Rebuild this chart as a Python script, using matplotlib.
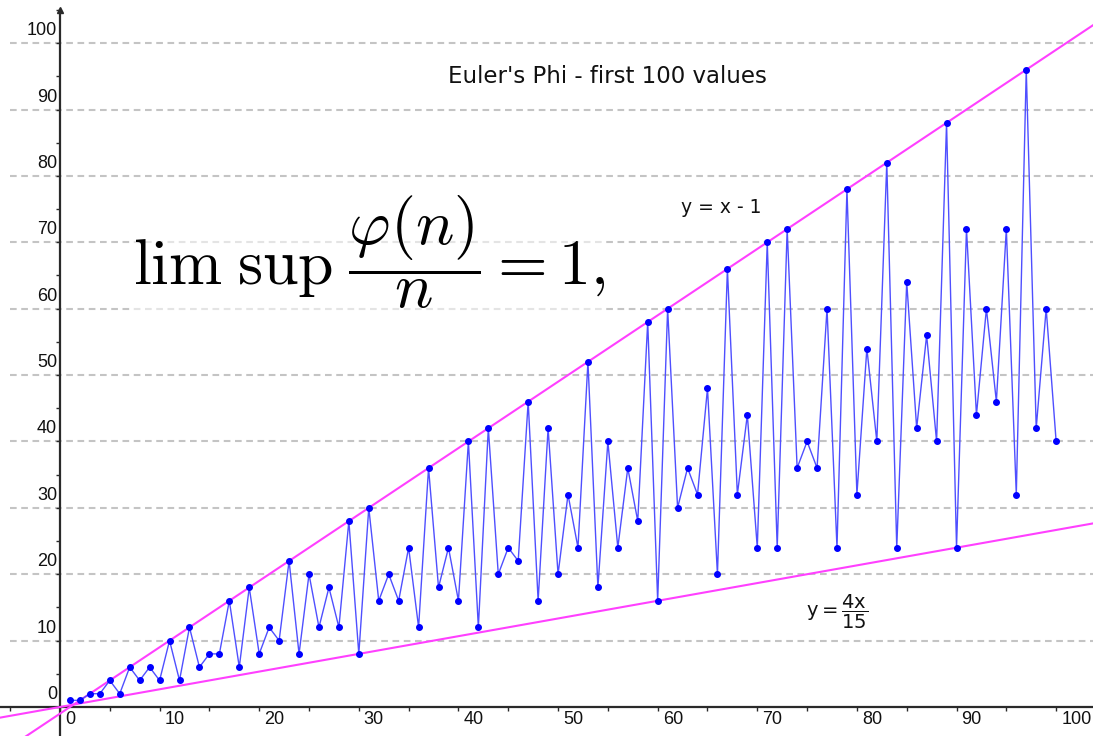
import matplotlib
matplotlib.use("Agg")
import matplotlib.pyplot as plt
import numpy as np
from matplotlib.ticker import MultipleLocator
import matplotlib.transforms as mtransforms

# ---- data ----
n_values = list(range(1, 101))
phi_values = [1, 1, 2, 2, 4, 2, 6, 4, 6, 4,
              10, 4, 12, 6, 8, 8, 16, 6, 18, 8,
              12, 10, 22, 8, 20, 12, 18, 12, 28, 8,
              30, 16, 20, 16, 24, 12, 36, 18, 24, 16,
              40, 12, 42, 20, 24, 22, 46, 16, 42, 20,
              32, 24, 52, 18, 40, 24, 36, 28, 58, 16,
              60, 30, 36, 32, 48, 20, 66, 32, 44, 24,
              70, 24, 72, 36, 40, 36, 60, 24, 78, 32,
              54, 40, 82, 24, 64, 42, 56, 40, 88, 24,
              72, 44, 60, 46, 72, 32, 96, 42, 60, 40]
x_tick_values = [0, 10, 20, 30, 40, 50, 60, 70, 80, 90, 100]
x_tick_labels = ["0", "10", "20", "30", "40", "50", "60", "70", "80", "90", "100"]
y_tick_values = [0, 10, 20, 30, 40, 50, 60, 70, 80, 90, 100]
y_tick_labels = ["0", "10", "20", "30", "40", "50", "60", "70", "80", "90", "100"]
grid_values = [10, 20, 30, 40, 50, 60, 70, 80, 90, 100]
upper_slope, upper_icpt = 1.0, -1.0       # y = x - 1
lower_slope, lower_icpt = 4.0 / 15.0, 0.0  # y = 4x/15

title_text = "Euler's Phi - first 100 values"
upper_label = "y = x - 1"
lower_label = r"$\mathrm{y{=}\dfrac{4x}{15}}$"
formula = r"$\lim\;\sup\;\dfrac{\varphi(n)}{n} = 1,$"

XMIN, XMAX = -6.02, 103.7
YMIN, YMAX = -4.37, 106.5

fig = plt.figure(figsize=(10.93, 7.36), dpi=100)
ax = fig.add_axes([0, 0, 1, 1])
ax.set_xlim(XMIN, XMAX)
ax.set_ylim(YMIN, YMAX)

font = "Liberation Sans"
font2 = "DejaVu Sans"
axis_col = "#2a2a2a"

# gridlines
ax.hlines(grid_values, -5.0, XMAX, colors="#c4c4c4", linewidth=1.5,
          linestyles=(0, (3.2, 2.2)), zorder=1)

# spines as axes
for s in ["top", "right"]:
    ax.spines[s].set_visible(False)
ax.spines["left"].set_position(("data", 0))
ax.spines["bottom"].set_position(("data", 0))
ax.spines["left"].set_bounds(YMIN, 105.0)
for s in ["left", "bottom"]:
    ax.spines[s].set_color(axis_col)
    ax.spines[s].set_linewidth(1.6)
    ax.spines[s].set_zorder(2)
ax.plot([0], [105.0], marker="^", ms=5, color=axis_col, clip_on=False, zorder=2)

ax.xaxis.set_major_locator(MultipleLocator(10))
ax.xaxis.set_minor_locator(MultipleLocator(5))
ax.yaxis.set_major_locator(MultipleLocator(10))
ax.yaxis.set_minor_locator(MultipleLocator(5))
ax.tick_params(which="both", direction="out", length=3, width=1, color=axis_col,
               labelbottom=False, labelleft=False)

for v, lab in zip(x_tick_values, x_tick_labels):
    off = mtransforms.offset_copy(ax.transData, fig=fig, x=5, y=-4, units="dots")
    ax.text(v, 0, lab, transform=off, ha="left", va="top",
            fontsize=13, family=font, color="#111111")
for v, lab in zip(y_tick_values, y_tick_labels):
    off = mtransforms.offset_copy(ax.transData, fig=fig, x=-3, y=4, units="dots")
    ax.text(0, v, lab, transform=off, ha="right", va="bottom",
            fontsize=13, family=font, color="#111111")

# bounding lines
xs = np.array([XMIN, XMAX])
ax.plot(xs, upper_slope * xs + upper_icpt, color="#ff40ff", lw=1.5, zorder=3)
ax.plot(xs, lower_slope * xs + lower_icpt, color="#ff40ff", lw=1.5, zorder=3)

# data
ax.plot(n_values, phi_values, color="#4f4fff", lw=1.0, zorder=4)
ax.plot(n_values, phi_values, linestyle="none", marker="o", ms=4,
        color="#0000ff", zorder=5)

# texts
ax.text(55.0, 95.0, title_text, ha="center", va="center", fontsize=16.5,
        family=font2, color="#111111")
ax.text(66.4, 75.2, upper_label, ha="center", va="center", fontsize=13.5,
        family=font2, color="#111111")
ax.text(78.0, 14.3, lower_label, ha="center", va="center", fontsize=14,
        math_fontfamily="dejavusans", color="#111111")
ax.text(7.3, 68.6, formula, ha="left", va="center", fontsize=46,
        math_fontfamily="cm", color="black",
        bbox=dict(facecolor="white", edgecolor="none", alpha=0.55, pad=0))

fig.savefig("out.png", dpi=100)
